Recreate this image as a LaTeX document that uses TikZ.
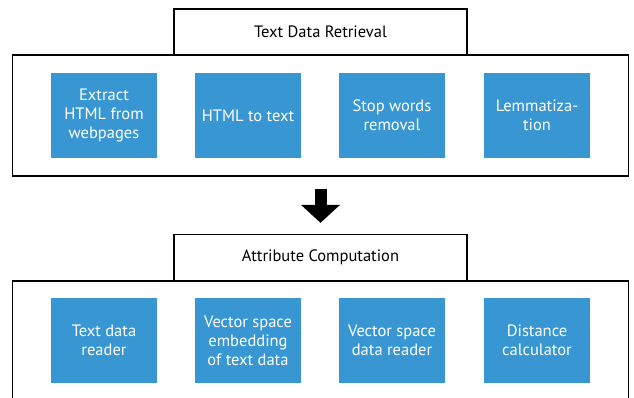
\documentclass[tikz,border=0pt]{standalone}
\usepackage{fontspec}
\setmainfont{PT Sans}
\usetikzlibrary{positioning,arrows.meta}
\definecolor{taskblue}{RGB}{56,151,211}

\begin{document}
\begin{tikzpicture}[x=1pt,y=-1pt,
  every node/.style={font=\fontsize{16.5}{19}\selectfont},
  stage/.style={draw,line width=1.3pt,minimum width=616pt,inner sep=0pt},
  heading/.style={draw,fill=white,line width=1.3pt,minimum width=293pt,minimum height=46pt,inner sep=0pt},
  task/.style={fill=taskblue,text=white,align=center,minimum width=106pt,minimum height=85pt,inner sep=0pt}]
\useasboundingbox (0,0) rectangle (634,398);
\clip (0,0) rectangle (634,398);
\fill[white] (0,0) rectangle (634,398);
% first stage
\node[stage,minimum height=121pt] (retrieval) at (320.5,115.5) {};
\node[heading] (retrievalhead) at (320.5,32) {Text Data Retrieval};
\foreach \name/\x/\txt in {r1/104/{Extract\\HTML from\\webpages}, r2/248/{HTML to text},
    r3/392/{Stop words\\removal}, r4/537/{Lemmatiza-\\tion}}
  \node[task] (\name) at (\x,115.5) {\txt};
% second stage
\node[stage,minimum height=140pt] (attribute) at (320.5,351) {};
\node[heading] (attributehead) at (320.5,257.5) {Attribute Computation};
\foreach \name/\x/\txt in {a1/104/{Text data\\reader}, a2/248/{Vector space\\embedding\\of text data},
    a3/392/{Vector space\\data reader}, a4/537/{Distance\\calculator}}
  \node[task] (\name) at (\x,340.5) {\txt};
% big arrow
\draw[line width=12pt,-{Triangle[width=38pt,length=18pt]},shorten <=12pt,shorten >=11pt]
  (retrieval.south) -- (attributehead.north);
\end{tikzpicture}
\end{document}
